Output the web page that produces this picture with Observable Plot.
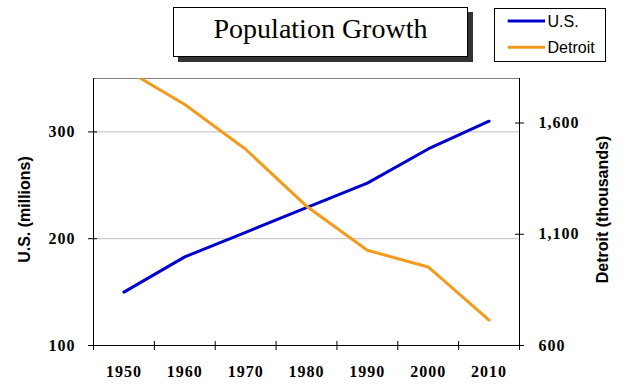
<!DOCTYPE html>
<html>
<head>
<meta charset="utf-8">
<script src="https://cdn.jsdelivr.net/npm/d3@7"></script>
<script src="https://cdn.jsdelivr.net/npm/@observablehq/plot@0.6"></script>
<style>
  html, body { margin: 0; padding: 0; background: white; }
  #wrap { position: relative; width: 629px; height: 391px; overflow: hidden; background: white; }
  #chart { position: absolute; left: 0; top: 0; }
  #title {
    position: absolute; left: 173px; top: 7px; width: 293px; height: 48px;
    border: 1px solid #000; background: #fff; box-shadow: 5px 5px 0 #333;
    font-family: "Liberation Serif", serif; font-size: 28px; line-height: 41px;
    text-align: center; color: #000;
  }
  #legend { position: absolute; left: 494px; top: 8px; }
  .tickfont text, text.tickfont { letter-spacing: 1px; }
</style>
</head>
<body>
<div id="wrap">
  <div id="chart"></div>
  <div id="title">Population Growth</div>
  <div id="legend"></div>
</div>
<script>
const years = [1950, 1960, 1970, 1980, 1990, 2000, 2010];
const usPop = [150, 183, 206, 229, 252, 284, 310];          // millions
const detroitPop = [1845, 1683, 1482, 1226, 1028, 953, 714]; // thousands
const leftTicks = [100, 200, 300];
const rightTicks = [600, 1100, 1600];
const xEdges = [1945, 1955, 1965, 1975, 1985, 1995, 2005, 2015];
const seriesNames = ["U.S.", "Detroit"];
const seriesColors = ["#0000cc", "#f29b1d"];

const xDomain = [1945, 2015];
const leftDomain = [100, 350];
const rightDomain = [600, 1800];
const toLeft = d3.scaleLinear().domain(rightDomain).range(leftDomain);

const data = years.map((year, i) => ({year, us: usPop[i], detroit: detroitPop[i]}));
const rightTickData = rightTicks.map(v => ({v, y: toLeft(v)}));

const tickFont = {fontFamily: "Liberation Serif", fontWeight: "bold", fontSize: 16, fill: "#000"};
const labelFont = {fontFamily: "Liberation Sans", fontWeight: "bold", fontSize: 16, fill: "#000"};

const chart = Plot.plot({
  width: 629, height: 391,
  marginTop: 78, marginBottom: 46, marginLeft: 93, marginRight: 110,
  style: {background: "transparent", color: "#000"},
  x: {domain: xDomain, axis: null},
  y: {domain: leftDomain, axis: null},
  marks: [
    Plot.ruleY([200, 300], {stroke: "#c0c0c0", strokeWidth: 1}),
    Plot.ruleY([leftDomain[1]], {stroke: "#808080", strokeWidth: 1}),
    Plot.line(data, {x: "year", y: "us", stroke: seriesColors[0], strokeWidth: 3}),
    Plot.line(data, {x: "year", y: d => toLeft(d.detroit), stroke: seriesColors[1], strokeWidth: 3, clip: true}),
    Plot.ruleX(xDomain, {stroke: "#000", strokeWidth: 1}),
    Plot.ruleY([leftDomain[0]], {stroke: "#000", strokeWidth: 1}),
    // tick marks crossing the axis lines
    Plot.ruleY(leftTicks, {x1: xDomain[0], x2: xDomain[0], insetLeft: -5, insetRight: -4, stroke: "#000"}),
    Plot.ruleY(rightTickData, {y: "y", x1: xDomain[1], x2: xDomain[1], insetLeft: -4, insetRight: -5, stroke: "#000"}),
    Plot.ruleX(xEdges, {y1: leftDomain[0], y2: leftDomain[0], insetTop: -4, insetBottom: -5, stroke: "#000"}),
    // tick labels
    Plot.text(leftTicks, {x: xDomain[0], y: d => d, text: d => String(d), dx: -18, textAnchor: "end", lineAnchor: "middle", className: "tickfont", ...tickFont}),
    Plot.text(rightTickData, {x: xDomain[1], y: "y", text: d => d3.format(",")(d.v), dx: 19, textAnchor: "start", lineAnchor: "middle", className: "tickfont", ...tickFont}),
    Plot.text(years, {x: d => d, y: leftDomain[0], text: d => String(d), dy: 26, textAnchor: "middle", lineAnchor: "middle", className: "tickfont", ...tickFont}),
    // axis titles
    Plot.text(["U.S. (millions)"], {text: d => d, frameAnchor: "left", dx: -69, dy: -2.5, rotate: -90, textAnchor: "middle", lineAnchor: "middle", ...labelFont}),
    Plot.text(["Detroit (thousands)"], {text: d => d, frameAnchor: "right", dx: 83, dy: -2.5, rotate: -90, textAnchor: "middle", lineAnchor: "middle", ...labelFont})
  ]
});
document.getElementById("chart").appendChild(chart);

// safety clip of the Detroit line to the frame
(function () {
  const svg = d3.select(chart.tagName.toLowerCase() === "svg" ? chart : chart.querySelector("svg"));
  const id = "frameclip";
  svg.append("defs").append("clipPath").attr("id", id).append("rect")
    .attr("x", 93).attr("y", 78).attr("width", 629 - 93 - 110).attr("height", 391 - 78 - 46);
  svg.selectAll("path").filter(function () { return this.getAttribute("stroke") === seriesColors[1] || (this.parentNode && this.parentNode.getAttribute("stroke") === seriesColors[1]); })
    .attr("clip-path", `url(#${id})`);
})();

// Legend
const lg = d3.select("#legend").append("svg").attr("width", 112).attr("height", 54);
lg.append("rect").attr("x", 0.5).attr("y", 0.5).attr("width", 111).attr("height", 53)
  .attr("fill", "#fff").attr("stroke", "#000");
seriesNames.forEach((name, i) => {
  const cy = 13 + i * 26.3;
  lg.append("line").attr("x1", 13.7).attr("x2", 51).attr("y1", cy).attr("y2", cy)
    .attr("stroke", seriesColors[i]).attr("stroke-width", 3);
  lg.append("text").attr("x", 53.5).attr("y", cy).attr("dy", "0.36em")
    .attr("font-family", "Liberation Sans").attr("font-size", 16).attr("fill", "#000")
    .text(name);
});
</script>
</body>
</html>
